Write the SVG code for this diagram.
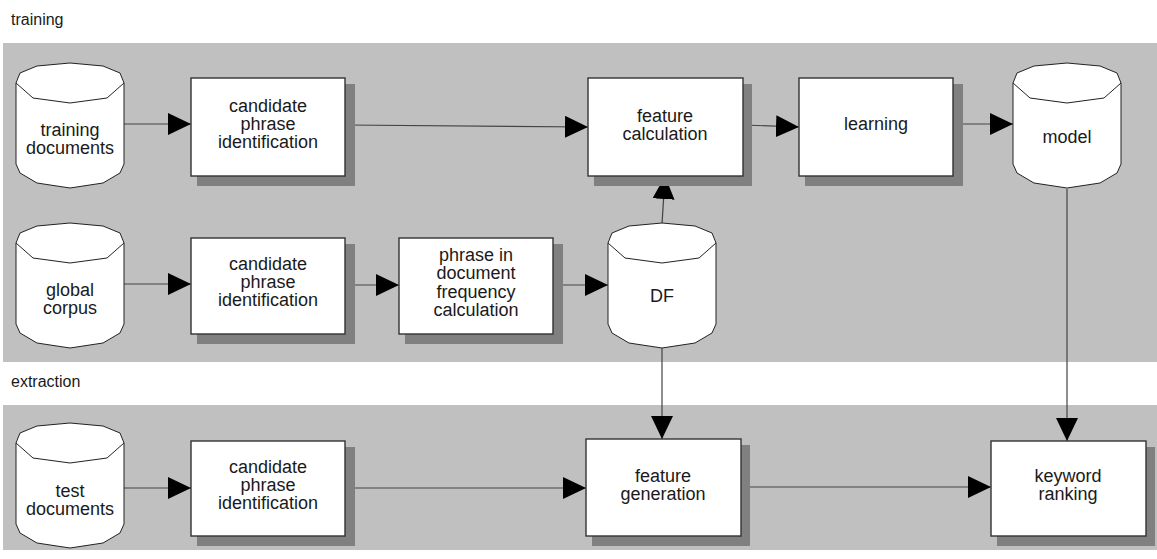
<svg xmlns="http://www.w3.org/2000/svg" width="1157" height="559" viewBox="0 0 1157 559">
<style>
.band{fill:#c0c0c0}
.box{fill:#fff;stroke:#333;stroke-width:1.4}
.shadow{fill:#808080}
.cyl{fill:#fff;stroke:#222;stroke-width:1}
.t{font-family:"Liberation Sans",Arial,sans-serif;font-size:18px;fill:#1a1a1a;text-anchor:middle}
.lbl{font-family:"Liberation Sans",Arial,sans-serif;font-size:16px;fill:#1a1a1a}
.c{stroke:#444;stroke-width:1.2;fill:none;marker-end:url(#ah)}
</style>
<defs>
<marker id="ah" markerUnits="userSpaceOnUse" markerWidth="24" markerHeight="22" refX="23" refY="11" orient="auto">
<path d="M0,0 L23,11 L0,22 Z" fill="#000"/>
</marker>
<g id="cylshape">
<path class="cyl" d="M0,20 L4,10 L21,3 L54,0 L87,3 L104,10 L108,20 L108,101 L104,110 L87,120 L54,125 L21,120 L4,110 L0,101 Z"/>
<path class="cyl" fill="none" d="M0,20 L17,35 L54,40 L91,35 L108,20"/>
</g>
</defs>
<rect class="band" x="3" y="43" width="1154" height="319"/>
<rect class="band" x="3" y="405" width="1154" height="145"/>
<text class="lbl" x="11" y="25">training</text>
<text class="lbl" x="11" y="387">extraction</text>

<g id="connectors">
<line class="c" x1="124" y1="124" x2="191" y2="124"/>
<line class="c" x1="345" y1="125" x2="588" y2="127"/>
<line class="c" x1="743" y1="125" x2="799" y2="127"/>
<line class="c" x1="953" y1="124" x2="1013" y2="124"/>
<line class="c" x1="1067" y1="189" x2="1067" y2="441"/>
<line class="c" x1="124" y1="284" x2="191" y2="284"/>
<line class="c" x1="345" y1="285" x2="399" y2="285"/>
<line class="c" x1="553" y1="285" x2="608" y2="285"/>
<line class="c" x1="662" y1="224" x2="665" y2="176"/>
<line class="c" x1="662" y1="348" x2="662" y2="439"/>
<line class="c" x1="124" y1="488" x2="191" y2="488"/>
<line class="c" x1="345" y1="488" x2="586" y2="488"/>
<line class="c" x1="741" y1="487" x2="991" y2="487"/>
</g>

<g id="training-documents">
<use href="#cylshape" x="16" y="63"/>
<text class="t" x="70" y="136">training</text>
<text class="t" x="70" y="154">documents</text>
</g>
<g id="candidate-1">
<rect class="shadow" x="197" y="84" width="158" height="102"/>
<rect class="box" x="191" y="78" width="154" height="98"/>
<text class="t" x="268" y="112">candidate</text>
<text class="t" x="268" y="130">phrase</text>
<text class="t" x="268" y="148">identification</text>
</g>
<g id="feature-calculation">
<rect class="shadow" x="594" y="84" width="158" height="102"/>
<rect class="box" x="588" y="78" width="155" height="98"/>
<text class="t" x="665" y="122">feature</text>
<text class="t" x="665" y="140">calculation</text>
</g>
<g id="learning">
<rect class="shadow" x="805" y="84" width="158" height="102"/>
<rect class="box" x="799" y="78" width="154" height="98"/>
<text class="t" x="876" y="130">learning</text>
</g>
<g id="model">
<use href="#cylshape" x="1013" y="63"/>
<text class="t" x="1067" y="143">model</text>
</g>
<g id="global-corpus">
<use href="#cylshape" x="16" y="223"/>
<text class="t" x="70" y="296">global</text>
<text class="t" x="70" y="314">corpus</text>
</g>
<g id="candidate-2">
<rect class="shadow" x="197" y="244" width="158" height="100"/>
<rect class="box" x="191" y="238" width="154" height="96"/>
<text class="t" x="268" y="270">candidate</text>
<text class="t" x="268" y="288">phrase</text>
<text class="t" x="268" y="306">identification</text>
</g>
<g id="phrase-df-calc">
<rect class="shadow" x="405" y="244" width="158" height="100"/>
<rect class="box" x="399" y="238" width="154" height="96"/>
<text class="t" x="476" y="261">phrase in</text>
<text class="t" x="476" y="279">document</text>
<text class="t" x="476" y="298">frequency</text>
<text class="t" x="476" y="316">calculation</text>
</g>
<g id="DF">
<use href="#cylshape" x="608" y="223"/>
<text class="t" x="662" y="302">DF</text>
</g>
<g id="test-documents">
<use href="#cylshape" x="16" y="423"/>
<text class="t" x="70" y="497">test</text>
<text class="t" x="70" y="515">documents</text>
</g>
<g id="candidate-3">
<rect class="shadow" x="197" y="447" width="158" height="99"/>
<rect class="box" x="191" y="441" width="154" height="95"/>
<text class="t" x="268" y="473">candidate</text>
<text class="t" x="268" y="491">phrase</text>
<text class="t" x="268" y="509">identification</text>
</g>
<g id="feature-generation">
<rect class="shadow" x="592" y="445" width="158" height="101"/>
<rect class="box" x="586" y="439" width="155" height="97"/>
<text class="t" x="663" y="482">feature</text>
<text class="t" x="663" y="500">generation</text>
</g>
<g id="keyword-ranking">
<rect class="shadow" x="997" y="447" width="158" height="99"/>
<rect class="box" x="991" y="441" width="155" height="95"/>
<text class="t" x="1068" y="482">keyword</text>
<text class="t" x="1068" y="500">ranking</text>
</g>
</svg>
